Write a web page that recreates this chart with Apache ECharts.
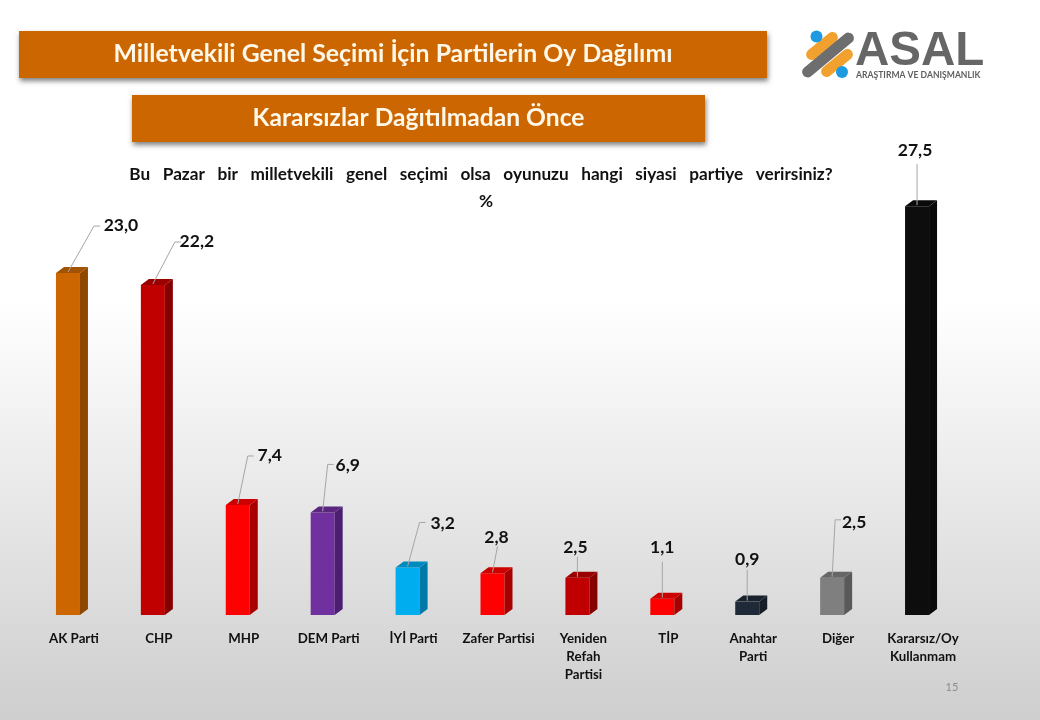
<!DOCTYPE html>
<html><head><meta charset="utf-8">
<style>html,body{margin:0;padding:0;background:#fff}#c{width:1040px;height:720px}</style>
<script src="https://cdn.jsdelivr.net/npm/echarts@6/dist/echarts.min.js"></script>
</head><body><div id="c"></div>
<script>
const categories = ['AK Parti','CHP','MHP','DEM Parti','İYİ Parti','Zafer Partisi','Yeniden\nRefah\nPartisi','TİP','Anahtar\nParti','Diğer','Kararsız/Oy\nKullanmam'];
const values = [23.0,22.2,7.4,6.9,3.2,2.8,2.5,1.1,0.9,2.5,27.5];
const valueLabels = ['23,0','22,2','7,4','6,9','3,2','2,8','2,5','1,1','0,9','2,5','27,5'];
const frontColors = ['#CC6600','#C00000','#FF0000','#7030A0','#00AEEF','#FF0000','#C00000','#FF0000','#1F2A38','#7F7F7F','#0D0D0D'];
const sideColors  = ['#8F4700','#860000','#A80000','#4A1F70','#0078A8','#A80000','#860000','#A80000','#161D27','#595959','#090909'];
const topColors   = ['#A35200','#9A0000','#CC0000','#5A2680','#008BBF','#CC0000','#9A0000','#CC0000','#19222D','#666666','#0A0A0A'];
// leader geometry relative to the centre of the bar's top: [elbowDx, elbowDy, endDx, labelDx, labelDy]
const leaders = [[26,-46,32,53,-47],[22,-42,28,44,-43],[10,-48,16,32,-49],[5,-47,11,25,-46],[12,-44,18,35,-43],[5,-26,5,4,-35],[0,-20,0,-2,-29],[0,-36,0,0,-50],[0,-31,0,0,-41],[3,-57,9,22,-54],[0,-41,0,-2,-55]];

const FONT = 'Lato, "Open Sans", sans-serif';
const BAR_W = 24, DX = 8, DY = 6;

function renderBar(params, api) {
  const i = api.value(0);
  const base = api.coord([i, 0]);
  const top = api.coord([i, api.value(1)]);
  const l = base[0] - BAR_W / 2, r = base[0] + BAR_W / 2;
  const lead = leaders[i];
  const ax = base[0], ay = top[1] - 1;
  return { type: 'group', children: [
    { type:'rect', shape:{x:l,y:top[1],width:BAR_W,height:base[1]-top[1]}, style:{fill:frontColors[i]} },
    { type:'polygon', shape:{points:[[r,top[1]],[r+DX,top[1]-DY],[r+DX,base[1]-DY],[r,base[1]]]}, style:{fill:sideColors[i]} },
    { type:'polygon', shape:{points:[[l,top[1]],[l+DX,top[1]-DY],[r+DX,top[1]-DY],[r,top[1]]]}, style:{fill:topColors[i]} },
    { type:'polyline', shape:{points:[[ax,ay],[ax+lead[0],ay+lead[1]],[ax+lead[2],ay+lead[1]]]}, style:{stroke:'#a6a6a6',lineWidth:1,fill:null} },
    { type:'text', x:ax+lead[3], y:ay+lead[4], style:{text:valueLabels[i],fill:'#111',font:'bold 17.5px '+FONT,align:'center',verticalAlign:'middle'} }
  ]};
}

function banner(x,y,w,h,text,size){
  return { type:'group', children:[
    { type:'rect', shape:{x:x,y:y,width:w,height:h}, style:{fill:'#CC6600',shadowColor:'rgba(0,0,0,0.5)',shadowBlur:5,shadowOffsetX:1,shadowOffsetY:3} },
    { type:'text', x:x+w/2, y:y+h/2, style:{text:text,fill:'#FFF8E8',font:'bold '+size+'px '+FONT,align:'center',verticalAlign:'middle'} }
  ]};
}
function blob(cx,cy,len,th,color){
  return { type:'rect', x:cx, y:cy, rotation:Math.PI*0.22, shape:{x:-len/2,y:-th/2,width:len,height:th,r:th/2}, style:{fill:color} };
}

const chart = echarts.init(document.getElementById('c'));
chart.setOption({
  animation:false,
  backgroundColor:{type:'linear',x:0,y:0,x2:0,y2:1,colorStops:[{offset:0,color:'#ffffff'},{offset:0.42,color:'#ffffff'},{offset:1,color:'#cecece'}]},
  grid:{left:25.5,right:80.5,top:169,bottom:105},
  xAxis:{type:'category',data:categories,axisLine:{show:false},axisTick:{show:false},
    axisLabel:{interval:0,color:'#111',fontFamily:FONT,fontWeight:'bold',fontSize:13.3,lineHeight:18,margin:15,padding:[0,0,0,12]}},
  yAxis:{type:'value',min:0,max:30,show:false},
  series:[{type:'custom',coordinateSystem:'cartesian2d',renderItem:renderBar,clip:false,
    encode:{x:0,y:1},data:values.map((v,i)=>[i,v])}],
  graphic:[
    banner(19,31,748,47,'Milletvekili Genel Seçimi İçin Partilerin Oy Dağılımı',24.8),
    banner(132,95,573,47,'Kararsızlar Dağıtılmadan Önce',24.6),
    {type:'text',x:481,y:174,style:{text:'Bu   Pazar   bir   milletvekili   genel   seçimi   olsa   oyunuzu   hangi   siyasi   partiye   verirsiniz?',fill:'#111',font:'bold 17.2px '+FONT,align:'center',verticalAlign:'middle'}},
    {type:'text',x:486,y:201,style:{text:'%',fill:'#111',font:'bold 17.2px '+FONT,align:'center',verticalAlign:'middle'}},
    {type:'text',x:952,y:687,style:{text:'15',fill:'#8c8c8c',font:'11px '+FONT,align:'center',verticalAlign:'middle'}},
    blob(822,46,38,11,'#F2A02E'), blob(837,63,38,11,'#F2A02E'),
    blob(828,55,64,11,'#6E6E6E'),
    {type:'circle',shape:{cx:816.5,cy:36.5,r:6},style:{fill:'#1E9BE0'}},
    {type:'circle',shape:{cx:842,cy:72,r:6},style:{fill:'#1E9BE0'}},
    {type:'text',x:855,y:52,style:{text:'ASAL',fill:'#666666',font:'bold 47.5px "Liberation Sans", sans-serif',align:'left',verticalAlign:'middle'}},
    {type:'text',x:856,y:75,style:{text:'ARAŞTIRMA VE DANIŞMANLIK',fill:'#5f5f5f',font:'bold 8.6px '+FONT,align:'left',verticalAlign:'middle'}}
  ]
});
</script></body></html>
